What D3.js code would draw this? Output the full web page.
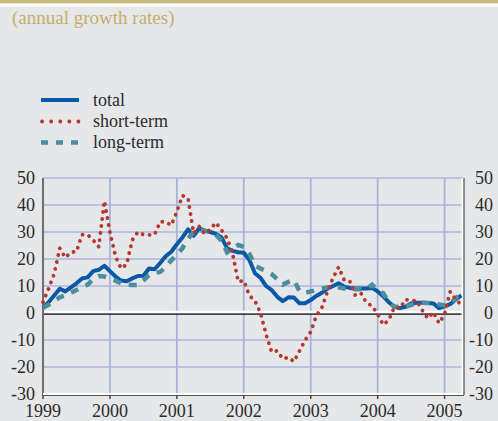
<!DOCTYPE html>
<html>
<head>
<meta charset="utf-8">
<script src="https://cdn.jsdelivr.net/npm/d3@7"></script>
<style>
  body { margin: 0; background: #e6e7e9; }
  svg { display: block; }
  text { font-family: "Liberation Serif", "DejaVu Serif", serif; }
</style>
</head>
<body>
<div id="chart"></div>
<script>
"use strict";

// monthly figures, Jan 1999 .. Apr 2005
var startYear = 1999;
var total = [2, 4, 6.5, 9, 8, 9.5, 11, 12.8, 13.2, 15.5, 16, 17.5,
  15.5, 13.5, 12, 11.8, 12.8, 13.7, 13.8, 16.5, 16.2, 18.5, 21, 22.7,
  25.5, 28, 31, 28.6, 31.4, 30.5, 30, 29.3, 28, 24, 23, 22.5,
  22.3, 19.6, 14.7, 13, 10, 8.5, 6, 4.4, 5.8, 5.7, 3.6, 3.6,
  4.8, 6.3, 7.5, 9, 10, 11, 9.7, 9.3, 9.1, 9.1, 9.1, 9.3,
  8, 6.2, 4, 2.3, 1.8, 2.3, 3.5, 3.8, 3.8, 3.7, 3.5, 1.8,
  2.5, 3.3, 5, 6.5];
var shortTerm = [4, 9, 14.5, 24, 20.5, 22.5, 22.7, 29, 29, 27, 24.5, 41.5,
  30, 21, 16.5, 18, 27, 30, 29, 28.9, 29, 33.8, 33.8, 32.5,
  37.5, 43.5, 42.5, 29.5, 32, 29.3, 31, 33.5, 30.7, 27.7, 22, 11.6,
  12, 6.5, 4.5, 0, -8, -14.5, -14, -17, -16.4, -18, -14, -10,
  -7, -1, 2, 8, 13, 17, 12.2, 11.8, 6.5, 7.3, 3.8, 2.6,
  -0.4, -4.4, -2.6, 2.2, 1.7, 5, 4.5, 4.6, 1, -2, 0.3, -3.8,
  -0.5, 7.9, 5, 3];
var longTerm = [2, 3, 4.5, 5.8, 6.5, 7.5, 8.5, 9.5, 10.5, 12.5, 13.7, 13.5,
  12.8, 12, 11, 10.5, 10.4, 10.4, 12, 14, 14.8, 15.2, 17, 19.5,
  21.5, 24, 27.5, 30, 31, 30.5, 30, 29, 26.8, 22.5, 24, 25.2,
  24.5, 22, 17.5, 16.5, 15.5, 14.4, 12.5, 10.5, 11.5, 12.2, 8, 7.5,
  8, 8.5, 9, 9.5, 9.7, 9.5, 9.1, 9, 8.8, 8.8, 8.8, 10.5,
  8.5, 7.3, 4, 2.3, 2.3, 2.3, 3, 3.7, 3.8, 3.7, 3.6, 3.2,
  2.8, 3.5, 5.5, 7];

var yTicks = [50, 40, 30, 20, 10, 0, -10, -20, -30];
var xTicks = [1999, 2000, 2001, 2002, 2003, 2004, 2005];

var seriesNames = ["total", "short-term", "long-term"];
var seriesColors = ["#0b58a7", "#b5372f", "#4b8e9d"];

var W = 498, H = 421;
var pLeft = 43, pRight = 463, pTop = 178, pBottom = 394;

var svg = d3.select("#chart").append("svg").attr("width", W).attr("height", H);

svg.append("rect").attr("width", W).attr("height", H).attr("fill", "#e6e7e9");
svg.append("rect").attr("width", W).attr("height", 3.5).attr("fill", "#c9ba7d");
svg.append("rect").attr("y", 3.5).attr("width", W).attr("height", 3).attr("fill", "#ffffff");

svg.append("text").attr("x", 12).attr("y", 24)
  .attr("font-size", 19).attr("fill", "#c3af6c")
  .text("(annual growth rates)");

var x = d3.scaleLinear().domain([1999, 2005 + 3.3 / 12]).range([pLeft, pRight]);
var y = d3.scaleLinear().domain([-30, 50]).range([pBottom, pTop]);

// grid
svg.append("g").selectAll("line").data(yTicks.filter(function (d) { return d !== -30; }))
  .enter().append("line")
  .attr("x1", pLeft).attr("x2", pRight)
  .attr("y1", function (d) { return y(d); }).attr("y2", function (d) { return y(d); })
  .attr("stroke", "#8d9ed3").attr("stroke-width", 1);

svg.append("g").selectAll("line").data(xTicks.slice(1))
  .enter().append("line")
  .attr("x1", function (d) { return x(d); }).attr("x2", function (d) { return x(d); })
  .attr("y1", pTop).attr("y2", pBottom)
  .attr("stroke", "#a6b3dc").attr("stroke-width", 1.8);

// zero line
svg.append("line").attr("x1", pLeft).attr("x2", pRight)
  .attr("y1", y(0) - 1).attr("y2", y(0) - 1)
  .attr("stroke", "#ffffff").attr("stroke-width", 2.5);
svg.append("line").attr("x1", pLeft).attr("x2", pRight)
  .attr("y1", y(0) + 1.2).attr("y2", y(0) + 1.2)
  .attr("stroke", "#111111").attr("stroke-width", 1.2);

// frame
svg.append("line").attr("x1", pLeft).attr("x2", pLeft).attr("y1", pTop).attr("y2", pBottom + 1)
  .attr("stroke", "#6e6e6e").attr("stroke-width", 2);
svg.append("line").attr("x1", pRight - 0.5).attr("x2", pRight - 0.5).attr("y1", pTop).attr("y2", pBottom)
  .attr("stroke", "#ffffff").attr("stroke-width", 2);
svg.append("line").attr("x1", pRight + 1).attr("x2", pRight + 1).attr("y1", pTop).attr("y2", pBottom + 1)
  .attr("stroke", "#333333").attr("stroke-width", 1);
svg.append("line").attr("x1", pLeft).attr("x2", pRight).attr("y1", pBottom).attr("y2", pBottom)
  .attr("stroke", "#ffffff").attr("stroke-width", 2);
svg.append("line").attr("x1", pLeft).attr("x2", pRight + 1).attr("y1", pBottom + 1.5).attr("y2", pBottom + 1.5)
  .attr("stroke", "#555555").attr("stroke-width", 1);
svg.append("g").selectAll("line").data(xTicks)
  .enter().append("line")
  .attr("x1", function (d) { return x(d); }).attr("x2", function (d) { return x(d); })
  .attr("y1", pBottom + 1).attr("y2", pBottom + 5)
  .attr("stroke", "#444444").attr("stroke-width", 1.5);

// tick labels
svg.append("g").selectAll("text").data(yTicks).enter().append("text")
  .attr("x", 35).attr("y", function (d) { return y(d); }).attr("dy", "0.33em")
  .attr("text-anchor", "end").attr("font-size", 18).attr("fill", "#2b2b2b")
  .text(function (d) { return d; });
svg.append("g").selectAll("text").data(yTicks).enter().append("text")
  .attr("x", 493).attr("y", function (d) { return y(d); }).attr("dy", "0.33em")
  .attr("text-anchor", "end").attr("font-size", 18).attr("fill", "#2b2b2b")
  .text(function (d) { return d; });
svg.append("g").selectAll("text").data(xTicks).enter().append("text")
  .attr("x", function (d) { return x(d); }).attr("y", 417)
  .attr("text-anchor", "middle").attr("font-size", 18).attr("fill", "#2b2b2b")
  .text(function (d) { return d; });

// series
var line = d3.line()
  .x(function (d, i) { return x(startYear + i / 12); })
  .y(function (d) { return y(d); });

svg.append("path").datum(total).attr("d", line)
  .attr("fill", "none").attr("stroke", seriesColors[0]).attr("stroke-width", 4)
  .attr("stroke-linejoin", "round");
svg.append("path").datum(longTerm).attr("d", line)
  .attr("fill", "none").attr("stroke", seriesColors[2]).attr("stroke-width", 4.5)
  .attr("stroke-dasharray", "8,8");
svg.append("path").datum(shortTerm).attr("d", line)
  .attr("fill", "none").attr("stroke", seriesColors[1]).attr("stroke-width", 3.8)
  .attr("stroke-linecap", "round").attr("stroke-dasharray", "0.1,7");

// legend
var legendY = [100, 121.5, 142.5];
var legendDash = [null, "0.1,9", "7,8"];
var legendWidth = [4, 3.8, 4.5];
var lg = svg.append("g");
seriesNames.forEach(function (name, i) {
  var l = lg.append("line").attr("x1", i === 1 ? 42 : 41).attr("x2", 79)
    .attr("y1", legendY[i]).attr("y2", legendY[i])
    .attr("stroke", seriesColors[i]).attr("stroke-width", legendWidth[i]);
  if (legendDash[i]) l.attr("stroke-dasharray", legendDash[i]);
  if (i === 1) l.attr("stroke-linecap", "round");
  lg.append("text").attr("x", 93).attr("y", legendY[i]).attr("dy", "0.33em")
    .attr("font-size", 18).attr("fill", "#2b2b2b").text(name);
});
</script>
</body>
</html>
